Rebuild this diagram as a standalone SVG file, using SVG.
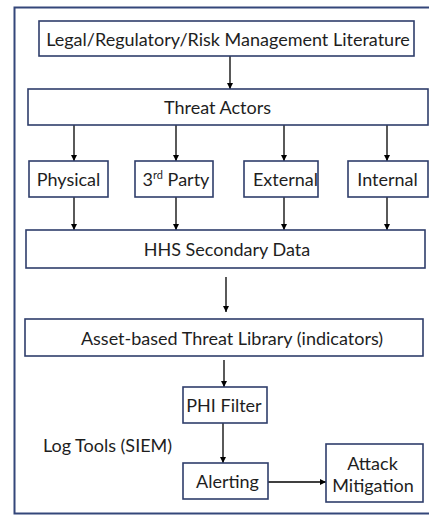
<svg xmlns="http://www.w3.org/2000/svg" width="429" height="515" viewBox="0 0 429 515">
<style>
.box{fill:#fff;stroke:#2f3e6b;stroke-width:1.6}
.t{font-family:Lato,"Liberation Sans",sans-serif;font-size:18px;fill:#1e1e1e;text-anchor:middle;dominant-baseline:central}
.c{stroke:#000;stroke-width:1.3;fill:none;marker-end:url(#ah)}
</style>
<defs>
<marker id="ah" viewBox="0 0 6 6" refX="6" refY="3" markerWidth="6" markerHeight="6" markerUnits="userSpaceOnUse" orient="auto">
<path d="M0,0 L6,3 L0,6 z" fill="#000"/>
</marker>
</defs>
<rect x="14.5" y="7.5" width="430" height="506" fill="#fff" stroke="#34477a" stroke-width="2"/>
<g id="connectors">
<line class="c" x1="230" y1="56" x2="230" y2="89"/>
<line class="c" x1="74" y1="125" x2="74" y2="161"/>
<line class="c" x1="176" y1="125" x2="176" y2="161"/>
<line class="c" x1="284" y1="125" x2="284" y2="161"/>
<line class="c" x1="387" y1="125" x2="387" y2="161"/>
<line class="c" x1="74" y1="197" x2="74" y2="230"/>
<line class="c" x1="176" y1="197" x2="176" y2="230"/>
<line class="c" x1="284" y1="197" x2="284" y2="230"/>
<line class="c" x1="387" y1="197" x2="387" y2="230"/>
<line class="c" x1="226" y1="277" x2="226" y2="312"/>
<line class="c" x1="224" y1="360" x2="224" y2="387"/>
<line class="c" x1="223" y1="423" x2="223" y2="463"/>
<line class="c" x1="268" y1="482" x2="326" y2="482"/>
</g>
<g id="legal"><rect class="box" x="39" y="21" width="375" height="35"/><text class="t" x="228" y="38.5">Legal/Regulatory/Risk Management Literature</text></g>
<g id="threat-actors"><rect class="box" x="28" y="89" width="400" height="36"/><text class="t" x="217.5" y="107">Threat Actors</text></g>
<g id="physical"><rect class="box" x="29" y="161" width="79" height="36"/><text class="t" x="68.5" y="179">Physical</text></g>
<g id="third-party"><rect class="box" x="135" y="161" width="78" height="36"/><text class="t" x="176" y="179">3<tspan font-size="11" dy="-5">rd</tspan><tspan dy="5"> Party</tspan></text></g>
<g id="external"><rect class="box" x="244" y="161" width="74" height="36"/><text class="t" x="285.5" y="179">External</text></g>
<g id="internal"><rect class="box" x="348" y="161" width="80" height="36"/><text class="t" x="387.5" y="179">Internal</text></g>
<g id="hhs"><rect class="box" x="26" y="230" width="399" height="38"/><text class="t" x="227" y="249">HHS Secondary Data</text></g>
<g id="asset"><rect class="box" x="25" y="319" width="398" height="37"/><text class="t" x="232" y="337.5">Asset-based Threat Library (indicators)</text></g>
<g id="phi"><rect class="box" x="183" y="387" width="84" height="36"/><text class="t" x="224" y="405">PHI Filter</text></g>
<g id="log-tools"><text class="t" x="107.5" y="445">Log Tools (SIEM)</text></g>
<g id="alerting"><rect class="box" x="183" y="463" width="85" height="36"/><text class="t" x="227.5" y="481">Alerting</text></g>
<g id="attack"><rect class="box" x="326" y="444" width="97" height="58"/><text class="t" x="372.5" y="463">Attack</text><text class="t" x="373" y="485">Mitigation</text></g>
</svg>
